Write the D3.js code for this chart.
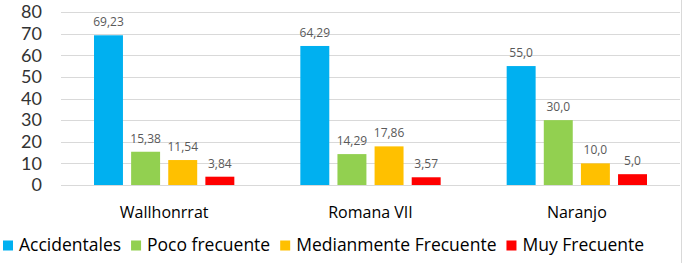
<!DOCTYPE html>
<html>
<head>
<meta charset="utf-8">
<script src="https://cdn.jsdelivr.net/npm/d3@7"></script>
<style>
  body { margin: 0; background: #fff; }
  svg { display: block; font-family: 'Open Sans', sans-serif; }
</style>
</head>
<body>
<svg id="graph"></svg>
<script>
const categories = ['Wallhonrrat', 'Romana VII', 'Naranjo']
const seriesNames = ['Accidentales', 'Poco frecuente', 'Medianmente Frecuente', 'Muy Frecuente']
const accidentales = [69.23, 64.29, 55.0]
const pocoFrecuente = [15.38, 14.29, 30.0]
const medianmente = [11.54, 17.86, 10.0]
const muyFrecuente = [3.84, 3.57, 5.0]
const valueLabels = [
  ['69,23', '64,29', '55,0'],
  ['15,38', '14,29', '30,0'],
  ['11,54', '17,86', '10,0'],
  ['3,84', '3,57', '5,0'],
]
const yTicks = [0, 10, 20, 30, 40, 50, 60, 70, 80]
const colors = ['#00B0F0', '#92D050', '#FFC000', '#FF0000']

const width = 685
const height = 263
const margin = { top: 12, left: 61, right: 5, bottom: 78 }
const bodyWidth = width - margin.left - margin.right
const bodyHeight = height - margin.top - margin.bottom

const svg = d3.select('#graph').attr('width', width).attr('height', height)

const series = [accidentales, pocoFrecuente, medianmente, muyFrecuente]
const data = categories.map((c, i) => ({
  cat: c,
  values: series.map((s, j) => ({ key: seriesNames[j], value: s[i], label: valueLabels[j][i], k: j })),
}))

const x0 = d3.scaleBand().domain(categories).range([0, bodyWidth]).paddingInner(0).paddingOuter(0)
const x1 = d3.scaleBand().domain(seriesNames).range([33, x0.bandwidth() - 33]).paddingInner(0.22)
const y = d3.scaleLinear().domain([0, 80]).range([bodyHeight, 0])

const g = svg.append('g').attr('transform', `translate(${margin.left},${margin.top})`)

// gridlines
g.append('g')
  .selectAll('line')
  .data(yTicks)
  .enter()
  .append('line')
  .attr('x1', 0)
  .attr('x2', bodyWidth)
  .attr('y1', (d) => Math.round(y(d)) + 0.5)
  .attr('y2', (d) => Math.round(y(d)) + 0.5)
  .attr('stroke', '#d9d9d9')
  .attr('stroke-width', 1)

// y axis labels
const axisY = d3.axisLeft(y).tickValues(yTicks).tickSize(0).tickPadding(19)
g.append('g')
  .call(axisY)
  .call((s) => s.select('.domain').remove())
  .selectAll('text')
  .style('font-size', '18px')
  .style('font-family', 'Lato, sans-serif')
  .attr('fill', '#333')

// right border
svg.append('line')
  .attr('x1', 681.5).attr('x2', 681.5).attr('y1', 0).attr('y2', height)
  .attr('stroke', '#d9d9d9')

// bars
const groups = g.selectAll('.grp').data(data).enter().append('g')
  .attr('transform', (d) => `translate(${x0(d.cat)},0)`)

groups.selectAll('rect').data((d) => d.values).enter().append('rect')
  .attr('x', (d) => x1(d.key))
  .attr('width', x1.bandwidth())
  .attr('y', (d) => y(d.value))
  .attr('height', (d) => bodyHeight - y(d.value))
  .attr('fill', (d) => colors[d.k])

groups.selectAll('text').data((d) => d.values).enter().append('text')
  .attr('x', (d) => x1(d.key) + x1.bandwidth() / 2)
  .attr('y', (d) => y(d.value) - 9)
  .attr('text-anchor', 'middle')
  .style('font-size', '12px')
  .attr('fill', '#595959')
  .text((d) => d.label)

// category labels
const axisX = d3.axisBottom(x0).tickSize(0).tickPadding(22)
g.append('g')
  .attr('transform', `translate(0,${bodyHeight})`)
  .call(axisX)
  .call((s) => s.select('.domain').remove())
  .selectAll('text')
  .style('font-size', '16px')
  .style('font-family', '"Open Sans", sans-serif')
  .attr('fill', '#000')

// legend
const legend = svg.append('g').attr('transform', 'translate(3,245)')
let lx = 0
seriesNames.forEach((name, i) => {
  const item = legend.append('g').attr('transform', `translate(${lx},0)`)
  item.append('rect').attr('x', 0).attr('y', -4.5).attr('width', 10).attr('height', 10).attr('fill', colors[i])
  const t = item.append('text').attr('x', 16).attr('y', 0).attr('dy', '0.35em')
    .style('font-size', '17.5px').attr('fill', '#000').text(name)
  lx += 16 + t.node().getComputedTextLength() + 10
})
</script>
</body>
</html>
